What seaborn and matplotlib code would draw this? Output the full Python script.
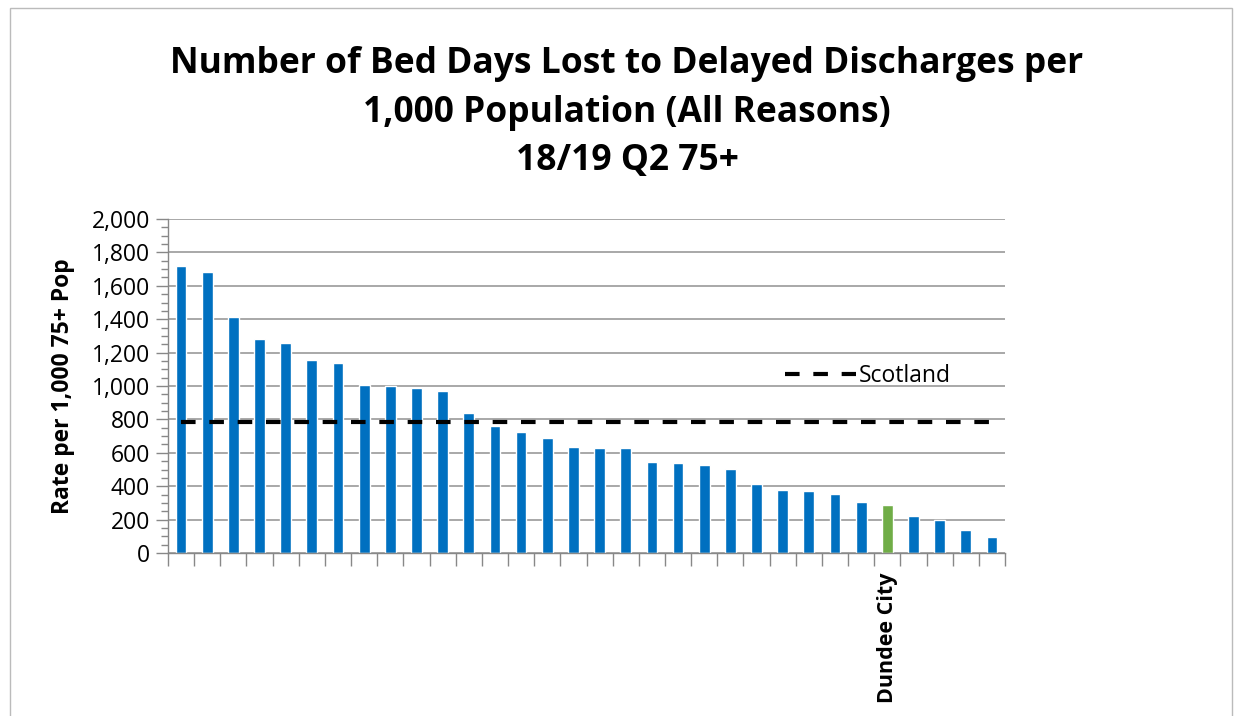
import matplotlib
matplotlib.use("Agg")
import matplotlib.pyplot as plt
from matplotlib.patches import Rectangle
from matplotlib.ticker import MultipleLocator, FixedLocator
import seaborn as sns
import pandas as pd
import numpy as np

# ---- data ----
areas = [f"Area {i+1}" for i in range(32)]
areas[27] = "Dundee City"
values = [1720, 1680, 1413, 1280, 1256, 1156, 1138, 1008, 1000, 990, 972, 838,
          760, 726, 689, 635, 629, 627, 545, 539, 525, 503, 415, 377, 371, 351,
          303, 287, 220, 198, 138, 94]
highlight = "Dundee City"
scotland = 783
title = "Number of Bed Days Lost to Delayed Discharges per\n1,000 Population (All Reasons)\n18/19 Q2 75+"
ylabel = "Rate per 1,000 75+ Pop"

df = pd.DataFrame({"area": areas, "value": values})
df["group"] = np.where(df["area"] == highlight, "hl", "other")

sns.set_theme(style="white")
plt.rcParams["font.family"] = ["Open Sans", "DejaVu Sans"]
plt.rcParams["text.color"] = "black"
plt.rcParams["axes.labelcolor"] = "black"
plt.rcParams["xtick.color"] = "black"
plt.rcParams["ytick.color"] = "black"

fig = plt.figure(figsize=(12.34, 7.16), dpi=100)
ax = fig.add_axes([168/1234, 1-553/716, (1005-168)/1234, (553-219)/716])

sns.barplot(data=df, x="area", y="value", hue="group", order=areas,
            palette={"other": "#0070C0", "hl": "#70AD47"}, width=0.41,
            dodge=False, legend=False, ax=ax, saturation=1)

n = len(areas)
ax.plot([0, n-1], [scotland, scotland], color="black", lw=3,
        dashes=(3.5, 3.3), label="Scotland", zorder=5)
leg = ax.legend(loc="upper left", bbox_to_anchor=(0.724, 0.60), frameon=False,
                fontsize=16.5, handlelength=3.1, handletextpad=0.1, borderpad=0)

ax.set_xlim(-0.5, n-0.5)
ax.set_ylim(0, 2000)
ax.yaxis.set_minor_locator(MultipleLocator(50))
ax.set_yticks(np.arange(0, 2001, 200))
ax.set_yticklabels([f"{int(v):,}" for v in np.arange(0, 2001, 200)])
ax.grid(axis="y", which="major", color="#999999", lw=1.2)
ax.set_axisbelow(True)

# x ticks: marks between categories, label only highlighted area
ax.set_xticks(range(n))
ax.set_xticklabels([a if a == highlight else "" for a in areas],
                   rotation=90, fontsize=15.5, fontweight="bold")
ax.tick_params(axis="x", which="major", length=0, pad=14, colors="black")
ax.xaxis.set_minor_locator(FixedLocator(np.arange(-0.5, n, 1)))
ax.tick_params(axis="x", which="minor", length=9, color="#888888", width=1, direction="out", bottom=True)
ax.tick_params(axis="y", which="major", length=9, color="#888888", width=1, direction="out", left=True, labelsize=16.5, pad=4, labelcolor="black")
ax.tick_params(axis="y", which="minor", length=5, color="#888888", width=1, direction="out", left=True)

ax.set_xlabel("")
ax.set_ylabel(ylabel, fontsize=16.5, fontweight="bold", labelpad=12)

for s in ["top", "right"]:
    ax.spines[s].set_visible(False)
for s in ["left", "bottom"]:
    ax.spines[s].set_color("#888888")
    ax.spines[s].set_linewidth(1)

fig.text(627/1234, 1-46/716, title, ha="center", va="top", fontsize=25.5,
         fontweight="bold", linespacing=1.47, color="black")

fig.patches.append(Rectangle((10/1234, -0.01), (1232-10)/1234, 1-8/716 + 0.01,
                             transform=fig.transFigure, fill=False,
                             edgecolor="#BBBBBB", lw=1))

fig.savefig("out.png", dpi=100)
